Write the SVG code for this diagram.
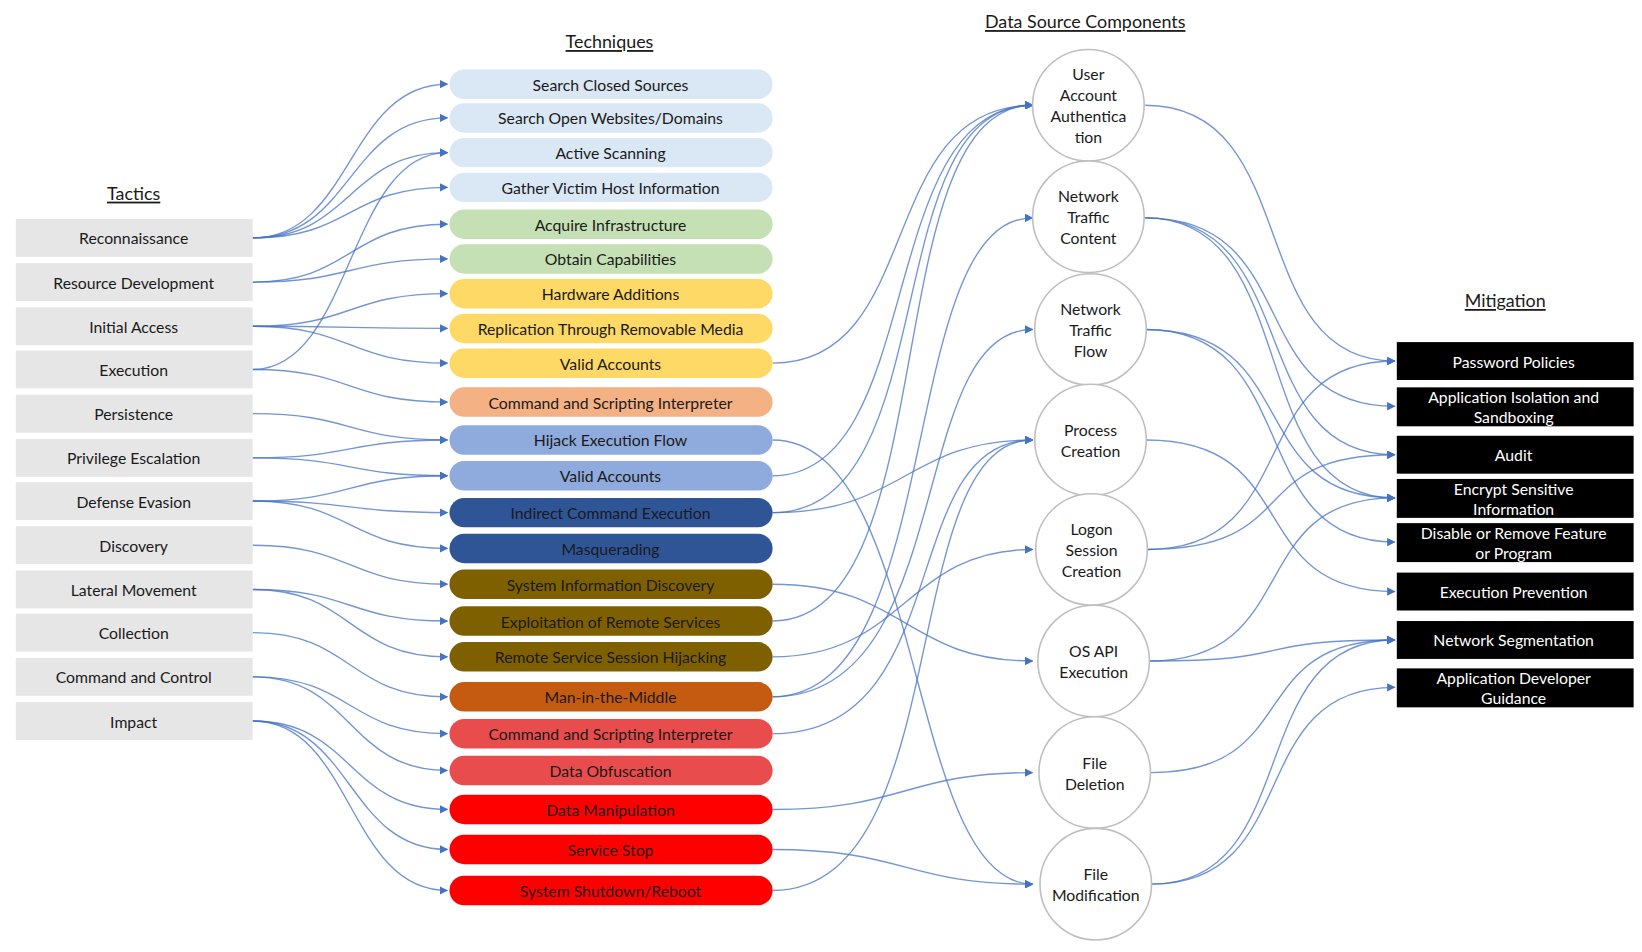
<svg xmlns="http://www.w3.org/2000/svg" width="1642" height="952" viewBox="0 0 1642 952">
<style>
text{font-family:Lato,"Open Sans","DejaVu Sans",sans-serif;font-size:15px;fill:#1a1a1a;text-anchor:middle;dominant-baseline:central}
.hdr{font-size:17px;text-decoration:underline}
.tac{fill:#e6e6e6}
.tech{stroke:none}
.ds{fill:#fff;stroke:#bfbfbf;stroke-width:1.5}
.mit{fill:#000}
.mt{fill:#fff;font-size:15px}
.c path{fill:none;stroke:#4472c4;stroke-opacity:.75;stroke-width:1.3;marker-end:url(#a)}
</style>
<defs><marker id="a" viewBox="0 0 10 10" refX="9" refY="5" markerWidth="8" markerHeight="8" markerUnits="userSpaceOnUse" orient="auto"><path d="M0,0L10,5L0,10z" fill="#4472c4"/></marker></defs>
<rect width="1642" height="952" fill="#fff"/>
<g transform="scale(1.0526)">
<text class="hdr" x="127" y="183">Tactics</text>
<text class="hdr" x="579" y="39">Techniques</text>
<text class="hdr" x="1031" y="20">Data Source Components</text>
<text class="hdr" x="1430" y="285">Mitigation</text>

<g class="c">
<path d="M240,226C335,226 330,80 425,80"/>
<path d="M240,226C335,226 330,112 425,112"/>
<path d="M240,226C335,226 330,145 425,145"/>
<path d="M240,226C335,226 330,178 425,178"/>
<path d="M240,268C335,268 330,213 425,213"/>
<path d="M240,268C335,268 330,246 425,246"/>
<path d="M240,310C335,310 330,279 425,279"/>
<path d="M240,310C335,310 330,312 425,312"/>
<path d="M240,310C335,310 330,345 425,345"/>
<path d="M240,351C335,351 330,145 425,145"/>
<path d="M240,351C335,351 330,382 425,382"/>
<path d="M240,393C335,393 330,418 425,418"/>
<path d="M240,435C335,435 330,418 425,418"/>
<path d="M240,435C335,435 330,452 425,452"/>
<path d="M240,476C335,476 330,452 425,452"/>
<path d="M240,476C335,476 330,487 425,487"/>
<path d="M240,476C335,476 330,521 425,521"/>
<path d="M240,518C335,518 330,555 425,555"/>
<path d="M240,560C335,560 330,590 425,590"/>
<path d="M240,560C335,560 330,624 425,624"/>
<path d="M240,601C335,601 330,662 425,662"/>
<path d="M240,643C335,643 330,697 425,697"/>
<path d="M240,643C335,643 330,732 425,732"/>
<path d="M240,685C335,685 330,769 425,769"/>
<path d="M240,685C335,685 330,807 425,807"/>
<path d="M240,685C335,685 330,846 425,846"/>

<path d="M734,345C880,345 830,100 981,100"/>
<path d="M734,452C880,452 830,100 981,100"/>
<path d="M734,487C900,487 830,100 981,100"/>
<path d="M734,590C900,590 830,100 981,100"/>
<path d="M734,418C880,418 860,840 981,840"/>
<path d="M734,487C860,487 860,418 981,418"/>
<path d="M734,555C860,555 860,628 981,628"/>
<path d="M734,624C860,624 860,522 981,522"/>
<path d="M734,662C900,662 850,207 981,207"/>
<path d="M734,662C910,662 860,313 981,313"/>
<path d="M734,697C910,697 850,418 981,418"/>
<path d="M734,846C910,846 850,418 981,418"/>
<path d="M734,769C860,769 860,734 981,734"/>
<path d="M734,807C860,807 860,840 981,840"/>

<path d="M1088,100C1240,100 1180,343 1325,343"/>
<path d="M1088,207C1240,207 1180,386 1325,386"/>
<path d="M1088,207C1240,207 1180,432 1325,432"/>
<path d="M1088,207C1240,207 1180,473 1325,473"/>
<path d="M1088,313C1240,313 1180,473 1325,473"/>
<path d="M1088,313C1240,313 1180,515 1325,515"/>
<path d="M1089,418C1240,418 1180,562 1325,562"/>
<path d="M1090,522C1240,522 1180,343 1325,343"/>
<path d="M1090,522C1240,522 1180,432 1325,432"/>
<path d="M1092,628C1240,628 1180,473 1325,473"/>
<path d="M1092,628C1240,628 1180,608 1325,608"/>
<path d="M1093,734C1240,734 1180,608 1325,608"/>
<path d="M1094,840C1240,840 1180,608 1325,608"/>
<path d="M1094,840C1240,840 1180,653 1325,653"/>
</g>

<g id="tactics">
<g id="tac-recon"><rect class="tac" x="15" y="208" width="225" height="36"/><text x="127" y="226">Reconnaissance</text></g>
<g id="tac-resdev"><rect class="tac" x="15" y="250" width="225" height="36"/><text x="127" y="268">Resource Development</text></g>
<g id="tac-init"><rect class="tac" x="15" y="292" width="225" height="36"/><text x="127" y="310">Initial Access</text></g>
<g id="tac-exec"><rect class="tac" x="15" y="333" width="225" height="36"/><text x="127" y="351">Execution</text></g>
<g id="tac-persist"><rect class="tac" x="15" y="375" width="225" height="36"/><text x="127" y="393">Persistence</text></g>
<g id="tac-priv"><rect class="tac" x="15" y="417" width="225" height="36"/><text x="127" y="435">Privilege Escalation</text></g>
<g id="tac-def"><rect class="tac" x="15" y="458" width="225" height="36"/><text x="127" y="476">Defense Evasion</text></g>
<g id="tac-disc"><rect class="tac" x="15" y="500" width="225" height="36"/><text x="127" y="518">Discovery</text></g>
<g id="tac-lat"><rect class="tac" x="15" y="542" width="225" height="36"/><text x="127" y="560">Lateral Movement</text></g>
<g id="tac-coll"><rect class="tac" x="15" y="583" width="225" height="36"/><text x="127" y="601">Collection</text></g>
<g id="tac-c2"><rect class="tac" x="15" y="625" width="225" height="36"/><text x="127" y="643">Command and Control</text></g>
<g id="tac-impact"><rect class="tac" x="15" y="667" width="225" height="36"/><text x="127" y="685">Impact</text></g>
</g>

<g id="techniques">
<g id="t1"><rect x="427" y="66" width="307" height="28" rx="14" fill="#dae7f5"/><text x="580" y="80">Search Closed Sources</text></g>
<g id="t2"><rect x="427" y="98" width="307" height="28" rx="14" fill="#dae7f5"/><text x="580" y="112">Search Open Websites/Domains</text></g>
<g id="t3"><rect x="427" y="131" width="307" height="28" rx="14" fill="#dae7f5"/><text x="580" y="145">Active Scanning</text></g>
<g id="t4"><rect x="427" y="164" width="307" height="28" rx="14" fill="#dae7f5"/><text x="580" y="178">Gather Victim Host Information</text></g>
<g id="t5"><rect x="427" y="199" width="307" height="28" rx="14" fill="#c5e0b4"/><text x="580" y="213">Acquire Infrastructure</text></g>
<g id="t6"><rect x="427" y="232" width="307" height="28" rx="14" fill="#c5e0b4"/><text x="580" y="246">Obtain Capabilities</text></g>
<g id="t7"><rect x="427" y="265" width="307" height="28" rx="14" fill="#ffd966"/><text x="580" y="279">Hardware Additions</text></g>
<g id="t8"><rect x="427" y="298" width="307" height="28" rx="14" fill="#ffd966"/><text x="580" y="312">Replication Through Removable Media</text></g>
<g id="t9"><rect x="427" y="331" width="307" height="28" rx="14" fill="#ffd966"/><text x="580" y="345">Valid Accounts</text></g>
<g id="t10"><rect x="427" y="368" width="307" height="28" rx="14" fill="#f4b183"/><text x="580" y="382">Command and Scripting Interpreter</text></g>
<g id="t11"><rect x="427" y="404" width="307" height="28" rx="14" fill="#8faadc"/><text x="580" y="418">Hijack Execution Flow</text></g>
<g id="t12"><rect x="427" y="438" width="307" height="28" rx="14" fill="#8faadc"/><text x="580" y="452">Valid Accounts</text></g>
<g id="t13"><rect x="427" y="473" width="307" height="28" rx="14" fill="#2f5597"/><text x="580" y="487">Indirect Command Execution</text></g>
<g id="t14"><rect x="427" y="507" width="307" height="28" rx="14" fill="#2f5597"/><text x="580" y="521">Masquerading</text></g>
<g id="t15"><rect x="427" y="541" width="307" height="28" rx="14" fill="#7f6000"/><text x="580" y="555">System Information Discovery</text></g>
<g id="t16"><rect x="427" y="576" width="307" height="28" rx="14" fill="#7f6000"/><text x="580" y="590">Exploitation of Remote Services</text></g>
<g id="t17"><rect x="427" y="610" width="307" height="28" rx="14" fill="#7f6000"/><text x="580" y="624">Remote Service Session Hijacking</text></g>
<g id="t18"><rect x="427" y="648" width="307" height="28" rx="14" fill="#c55a11"/><text x="580" y="662">Man-in-the-Middle</text></g>
<g id="t19"><rect x="427" y="683" width="307" height="28" rx="14" fill="#e84c4c"/><text x="580" y="697">Command and Scripting Interpreter</text></g>
<g id="t20"><rect x="427" y="718" width="307" height="28" rx="14" fill="#e84c4c"/><text x="580" y="732">Data Obfuscation</text></g>
<g id="t21"><rect x="427" y="755" width="307" height="28" rx="14" fill="#ff0000"/><text x="580" y="769">Data Manipulation</text></g>
<g id="t22"><rect x="427" y="793" width="307" height="28" rx="14" fill="#ff0000"/><text x="580" y="807">Service Stop</text></g>
<g id="t23"><rect x="427" y="832" width="307" height="28" rx="14" fill="#ff0000"/><text x="580" y="846">System Shutdown/Reboot</text></g>
</g>

<g id="datasources">
<g id="ds-uaa"><circle class="ds" cx="1034" cy="100" r="53"/><text x="1034" y="70">User</text><text x="1034" y="90">Account</text><text x="1034" y="110">Authentica</text><text x="1034" y="130">tion</text></g>
<g id="ds-ntc"><circle class="ds" cx="1034" cy="206" r="53"/><text x="1034" y="186">Network</text><text x="1034" y="206">Traffic</text><text x="1034" y="226">Content</text></g>
<g id="ds-ntf"><circle class="ds" cx="1036" cy="313" r="53"/><text x="1036" y="293">Network</text><text x="1036" y="313">Traffic</text><text x="1036" y="333">Flow</text></g>
<g id="ds-pc"><circle class="ds" cx="1036" cy="418" r="53"/><text x="1036" y="408">Process</text><text x="1036" y="428">Creation</text></g>
<g id="ds-lsc"><circle class="ds" cx="1037" cy="522" r="53"/><text x="1037" y="502">Logon</text><text x="1037" y="522">Session</text><text x="1037" y="542">Creation</text></g>
<g id="ds-os"><circle class="ds" cx="1039" cy="628" r="53"/><text x="1039" y="618">OS API</text><text x="1039" y="638">Execution</text></g>
<g id="ds-fd"><circle class="ds" cx="1040" cy="734" r="53"/><text x="1040" y="724">File</text><text x="1040" y="744">Deletion</text></g>
<g id="ds-fm"><circle class="ds" cx="1041" cy="840" r="53"/><text x="1041" y="830">File</text><text x="1041" y="850">Modification</text></g>
</g>

<g id="mitigations">
<g id="m1"><rect class="mit" x="1327" y="325" width="225" height="36"/><text class="mt" x="1438" y="343">Password Policies</text></g>
<g id="m2"><rect class="mit" x="1327" y="368" width="225" height="37"/><text class="mt" x="1438" y="377">Application Isolation and</text><text class="mt" x="1438" y="396">Sandboxing</text></g>
<g id="m3"><rect class="mit" x="1327" y="414" width="225" height="36"/><text class="mt" x="1438" y="432">Audit</text></g>
<g id="m4"><rect class="mit" x="1327" y="455" width="225" height="37"/><text class="mt" x="1438" y="464">Encrypt Sensitive</text><text class="mt" x="1438" y="483">Information</text></g>
<g id="m5"><rect class="mit" x="1327" y="497" width="225" height="37"/><text class="mt" x="1438" y="506">Disable or Remove Feature</text><text class="mt" x="1438" y="525">or Program</text></g>
<g id="m6"><rect class="mit" x="1327" y="544" width="225" height="36"/><text class="mt" x="1438" y="562">Execution Prevention</text></g>
<g id="m7"><rect class="mit" x="1327" y="590" width="225" height="36"/><text class="mt" x="1438" y="608">Network Segmentation</text></g>
<g id="m8"><rect class="mit" x="1327" y="635" width="225" height="37"/><text class="mt" x="1438" y="644">Application Developer</text><text class="mt" x="1438" y="663">Guidance</text></g>
</g>
</g>
</svg>
